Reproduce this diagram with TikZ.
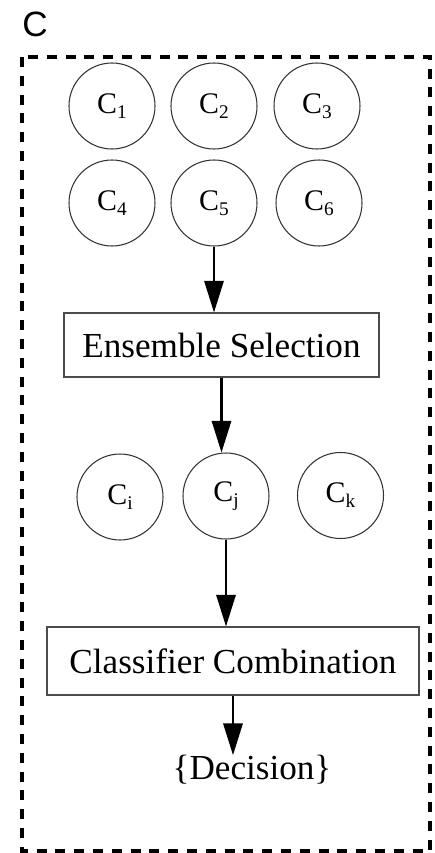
\documentclass[tikz,border=0pt]{standalone}
\usepackage{fontspec}
\setmainfont{Liberation Serif}
\newfontfamily\panelfont{Liberation Sans}
\usetikzlibrary{arrows.meta}
\newcommand{\csub}[1]{\raisebox{-0.35ex}{\fontsize{11}{11}\selectfont #1}}
\newcommand{\clfnode}[4]{% x, y, name, subscript
  \node[clf] (#3) at (#1,#2) {C\csub{#4}};}

\begin{document}
\begin{tikzpicture}[>={Triangle[width=11pt,length=18pt]},
  clf/.style={draw=black!80,line width=0.6pt,circle,minimum size=1.72cm,inner sep=0,
    font=\fontsize{17}{20}\selectfont},
  stage/.style={draw=black!70,line width=0.6pt,inner sep=0,
    font=\fontsize{20}{24}\selectfont},
  flow/.style={->,line width=1.2pt}]
  \useasboundingbox (0,0) rectangle (8.7,-17.06);
  % ---- panel label and dashed frame ----
  \node[font=\panelfont\fontsize{20}{22}\selectfont] (lbl) at (0.7,-0.48) {C};
  \draw[line width=2pt,dash pattern=on 5.7pt off 5pt] (0.44,-1.14) rectangle (8.6,-17.02);
  % ---- pool of classifiers ----
  \clfnode{2.24}{-2.12}{c1}{1}
  \clfnode{4.28}{-2.12}{c2}{2}
  \clfnode{6.34}{-2.12}{c3}{3}
  \clfnode{2.24}{-4.06}{c4}{4}
  \clfnode{4.28}{-4.06}{c5}{5}
  \clfnode{6.38}{-4.06}{c6}{6}
  % ---- ensemble selection ----
  \node[stage,minimum width=6.3cm,minimum height=1.28cm] (sel) at (4.43,-6.9) {Ensemble Selection};
  \draw[flow] (c5.south) -- (c5.south |- sel.north);
  % ---- selected classifiers ----
  \clfnode{2.4}{-9.94}{ci}{i}
  \clfnode{4.52}{-9.92}{cj}{j}
  \clfnode{6.81}{-9.91}{ck}{k}
  \draw[flow] (sel.south) -- (sel.south |- cj.north);
  % ---- combination and decision ----
  \node[stage,minimum width=7.44cm,minimum height=1.36cm] (comb) at (4.66,-13.22) {Classifier Combination};
  \draw[flow] (cj.south) -- (cj.south |- comb.north);
  \node[inner sep=0,font=\fontsize{20}{24}\selectfont] (dec) at (5.04,-15.4) {\{Decision\}};
  \draw[flow] (comb.south) -- (comb.south |- dec.north);
\end{tikzpicture}
\end{document}
